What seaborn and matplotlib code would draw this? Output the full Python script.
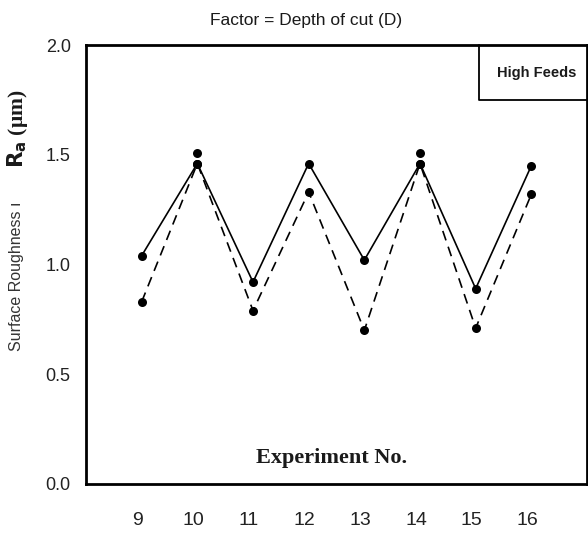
import matplotlib
matplotlib.use("Agg")
import matplotlib.pyplot as plt
import matplotlib.transforms as mtrans
import seaborn as sns
import pandas as pd

experiments = [9, 10, 11, 12, 13, 14, 15, 16]
solid_values = [1.04, 1.46, 0.92, 1.46, 1.02, 1.46, 0.89, 1.45]
dashed_values = [0.83, 1.46, 0.79, 1.33, 0.70, 1.46, 0.71, 1.32]
extra_exps = [10, 14]
extra_values = [1.51, 1.51]
y_ticks = [0.0, 0.5, 1.0, 1.5, 2.0]
x_ticks = [8, 9, 10, 11, 12, 13, 14, 15, 16, 17]
x_ticklabels = ["", "9", "10", "11", "12", "13", "14", "15", "16", ""]

sns.set_theme(style="white")
plt.rcParams["font.family"] = ["Liberation Sans", "DejaVu Sans"]
SERIF = ["Liberation Serif", "DejaVu Serif"]

fig = plt.figure(figsize=(5.88, 5.38), dpi=100)
ax = fig.add_axes([86/588, 54/538, 501/588, 439/538])

df_s = pd.DataFrame({"x": experiments, "y": solid_values})
df_d = pd.DataFrame({"x": experiments, "y": dashed_values})
sns.lineplot(data=df_s, x="x", y="y", ax=ax, color="black", lw=1.2,
             marker="o", markersize=6.5, markeredgewidth=0)
sns.lineplot(data=df_d, x="x", y="y", ax=ax, color="black", lw=1.2,
             linestyle=(0, (6, 4)), marker="o", markersize=6.5, markeredgewidth=0)
sns.scatterplot(x=extra_exps, y=extra_values, ax=ax, color="black", s=42, linewidth=0)

ax.set_xlim(8, 17)
ax.set_ylim(0, 2.0)
ax.set_yticks(y_ticks)
ax.set_yticklabels([f"{v:.1f}" for v in y_ticks], fontsize=13, color="#222222")
ax.set_xticks(x_ticks)
ax.set_xticklabels(x_ticklabels, fontsize=14, color="#222222")
ax.tick_params(axis="y", direction="out", length=6, width=1.2, color="black", pad=5)
ax.tick_params(axis="x", direction="out", length=4.5, width=1.2, color="black", pad=16)
shift = mtrans.ScaledTranslation(-0.04, 0, fig.dpi_scale_trans)
for lbl in ax.get_xticklabels():
    lbl.set_transform(lbl.get_transform() + shift)
ax.set_xlabel("")
ax.set_ylabel("")
for s in ax.spines.values():
    s.set_color("black")
    s.set_linewidth(2)

ax.text(0.49, 0.059, "Experiment No.", transform=ax.transAxes, ha="center", va="center",
        fontsize=16, fontweight="bold", family=SERIF, color="#1a1a1a")

# legend-like box
ax.plot([0.784, 0.784, 1.0], [1.0, 0.875, 0.875], transform=ax.transAxes,
        color="black", lw=1.3, clip_on=False)
ax.text(0.9, 0.937, "High Feeds", transform=ax.transAxes, ha="center", va="center",
        fontsize=10.5, fontweight="bold", color="#1a1a1a")

fig.text(306/588, 1 - 20/538, "Factor = Depth of cut (D)", ha="center", va="center",
         fontsize=12.5, color="#1a1a1a")
fig.text(17/588, 1 - 276/538, "Surface Roughness ı", rotation=90, ha="center", va="center",
         fontsize=11.5, color="#333333")
fig.text(18/588, 1 - 129/538, r"$\mathbf{R_a}$ (μm)", rotation=90, ha="center", va="center",
         fontsize=15.5, fontweight="bold", family=SERIF, color="#1a1a1a")

fig.savefig("out.png", dpi=100)
